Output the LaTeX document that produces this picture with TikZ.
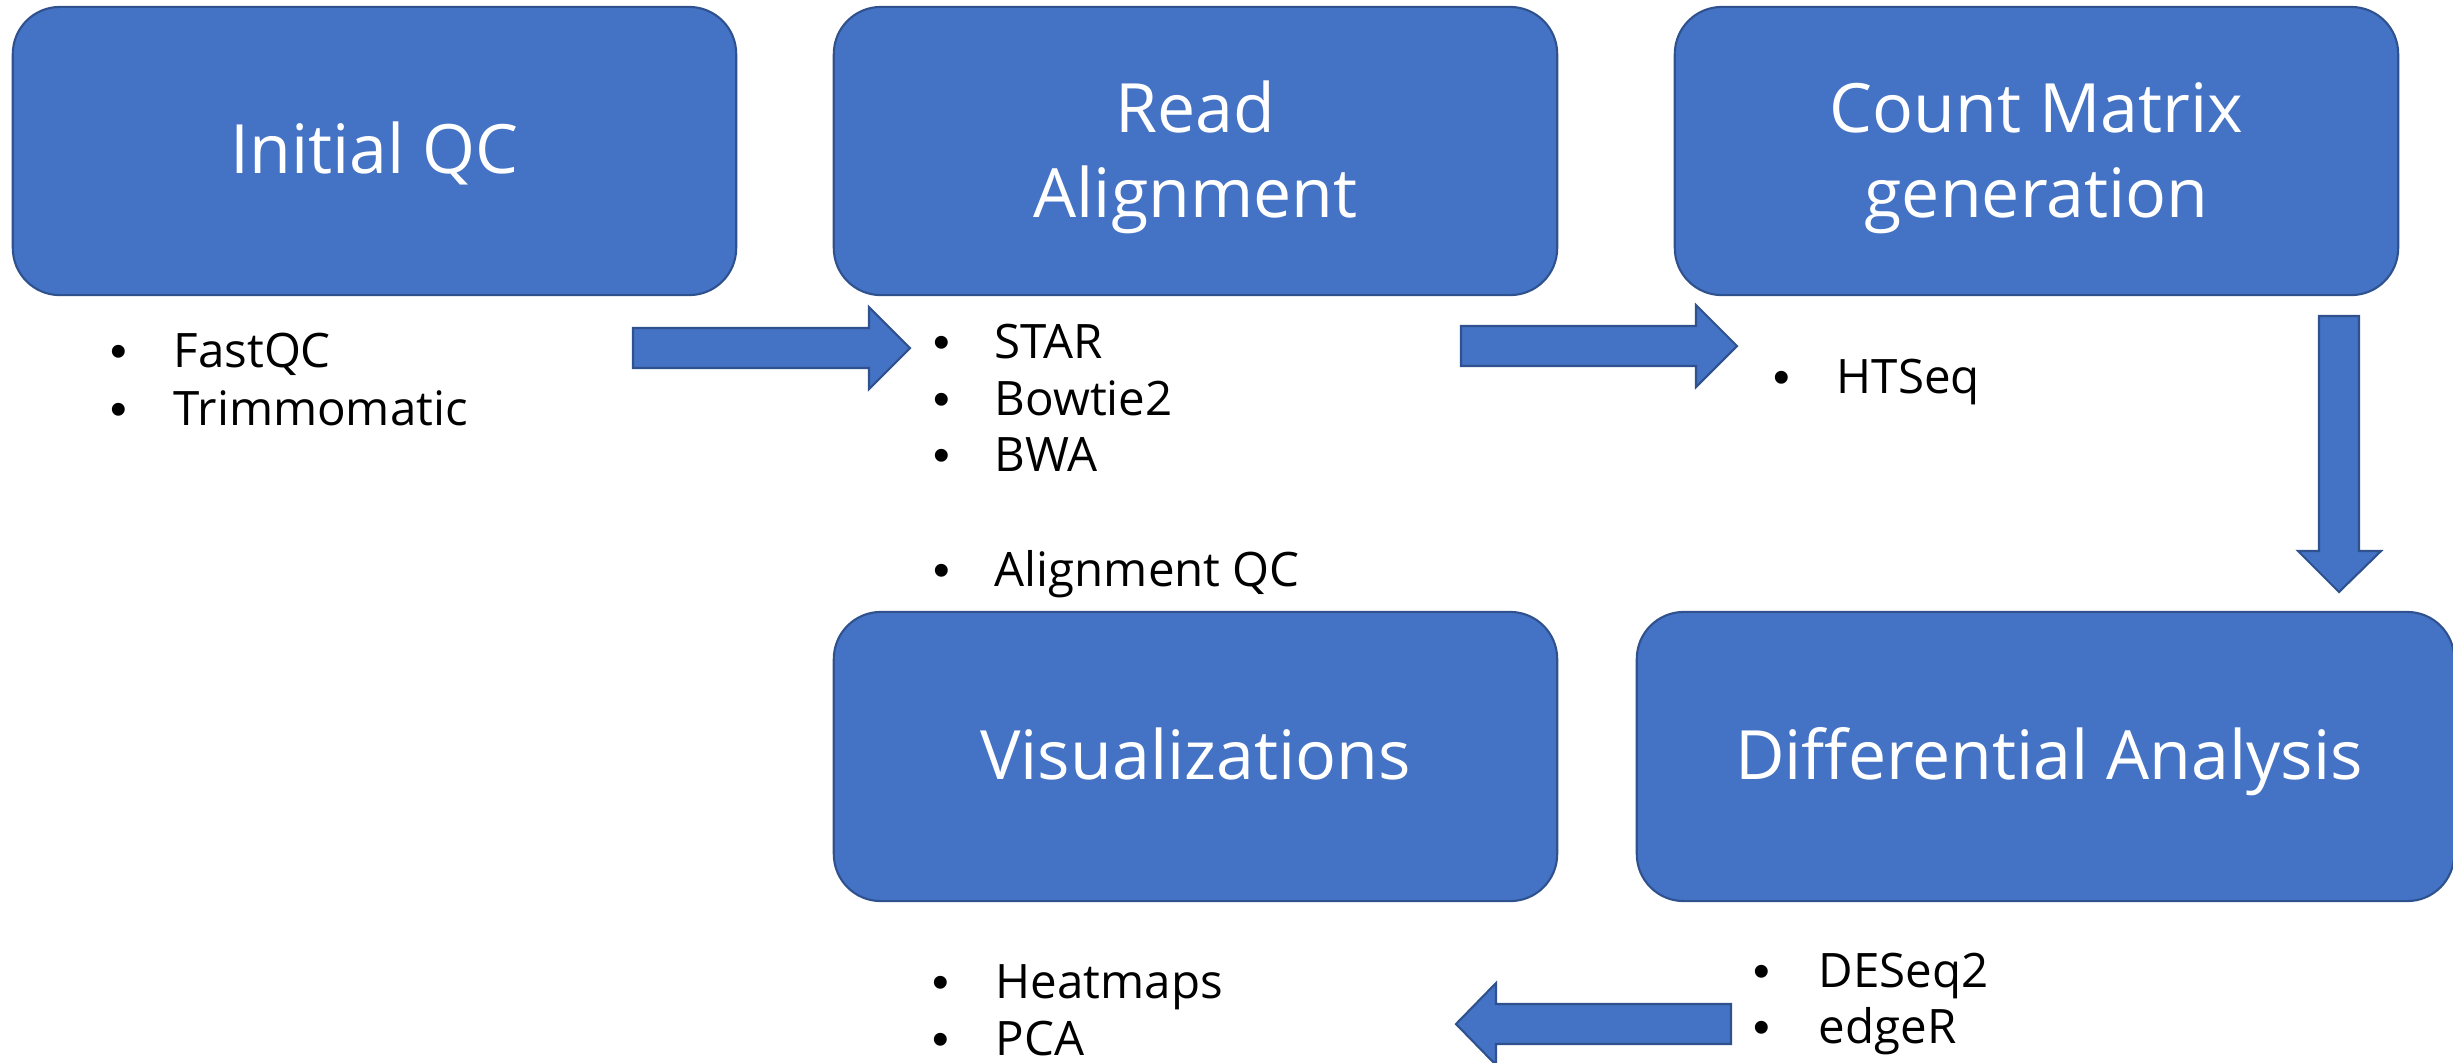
\documentclass[tikz,border=0pt]{standalone}
\usepackage{fontspec}
\setmainfont{Open Sans}
\newfontfamily\bulfont{Liberation Sans}
\definecolor{boxfill}{HTML}{4472C4}
\definecolor{boxline}{HTML}{2F528F}
\tikzset{
  box/.style={draw=boxline, fill=boxfill, line width=0.6pt, rounded corners=0.47cm, rectangle, inner sep=0pt},
  title/.style={text=white, font=\fontsize{19.35}{24}\selectfont, anchor=base, inner sep=0pt},
  item/.style={text=black, font=\fontsize{13.5}{16}\selectfont, anchor=base west, inner sep=0pt},
  bul/.style={text=black, font=\bulfont\fontsize{13.5}{16}\selectfont, anchor=base, inner sep=0pt},
  blockarrow/.style={draw=boxline, fill=boxfill, line width=0.6pt, line join=miter},
}
\newcommand\bitem[5]{%
  \node[bul] (#1b) at (#2,#4) {•};
  \node[item] (#1) at (#3,#4) {#5};}
\begin{document}
\begin{tikzpicture}[x=0.01cm, y=-0.01cm]
\useasboundingbox (0,0) rectangle (2453,1062);
\begin{scope}
\clip (0,0) rectangle (2453,1062);
% boxes
\node[box, minimum width=7.23cm, minimum height=2.88cm] (iqc) at (374.5,151) {};
\node[box, minimum width=7.23cm, minimum height=2.88cm] (ra) at (1195.5,151) {};
\node[box, minimum width=7.23cm, minimum height=2.88cm] (cm) at (2036.5,151) {};
\node[box, minimum width=7.23cm, minimum height=2.89cm] (vis) at (1195.5,756.5) {};
\node[box, minimum width=8.17cm, minimum height=2.89cm] (diff) at (2045.5,756.5) {};
% titles
\node[title] (iqcT) at (374.5,173) {Initial QC};
\node[title] (raT1) at (1195.5,132) {Read};
\node[title] (raT2) at (1195.5,217) {Alignment};
\node[title] (cmT1) at (2036.5,132) {Count Matrix};
\node[title] (cmT2) at (2036.5,217) {generation};
\node[title] (visT) at (1195.5,779) {Visualizations};
\node[title] (diffT) at (2049,779) {Differential Analysis};
% bullet lists
\bitem{fastqc}{119}{173}{367}{FastQC}
\bitem{trimmo}{119}{173}{425}{Trimmomatic}
\bitem{star}{942}{994}{358}{STAR}
\bitem{bowtie}{942}{994}{415}{Bowtie2}
\bitem{bwa}{942}{994}{471}{BWA}
\bitem{alnqc}{942}{994}{586}{Alignment QC}
\bitem{htseq}{1782}{1836}{393}{HTSeq}
\bitem{deseq}{1762}{1818}{987}{DESeq2}
\bitem{edger}{1762}{1818}{1043}{edgeR}
\bitem{heat}{941}{995}{998}{Heatmaps}
\bitem{pca}{941}{995}{1055}{PCA}
% block arrows
\draw[blockarrow] (633,328) -- (869,328) -- (869,307) -- (910,348) -- (869,389) -- (869,368) -- (633,368) -- cycle;
\draw[blockarrow] (1461,326) -- (1696,326) -- (1696,305) -- (1737,346) -- (1696,387) -- (1696,366) -- (1461,366) -- cycle;
\draw[blockarrow] (2319,316) -- (2359,316) -- (2359,551) -- (2381,551) -- (2339,592) -- (2298,551) -- (2319,551) -- cycle;
\draw[blockarrow] (1731,1004) -- (1496,1004) -- (1496,983) -- (1456,1024) -- (1496,1065) -- (1496,1044) -- (1731,1044) -- cycle;
\end{scope}
\end{tikzpicture}
\end{document}
